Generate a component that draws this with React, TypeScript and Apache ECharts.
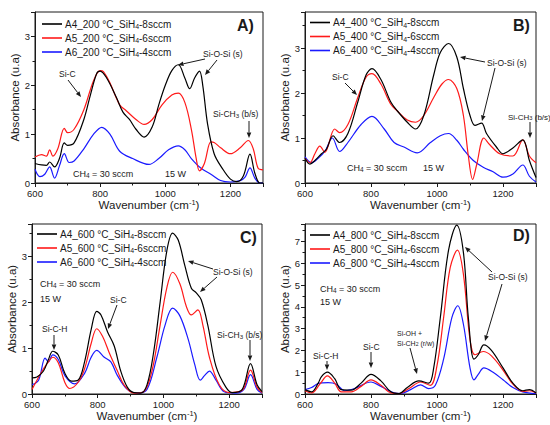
import React, { useEffect, useRef } from "react";
import * as echarts from "echarts";

type P = [number, number][];

// Panel A (200 °C)
const A4_200: P = [[600,0.40],[620,0.37],[635,0.36],[645,0.43],[660,0.33],[675,0.5],[690,0.82],[700,0.77],[720,0.82],[750,1.3],[770,1.8],[790,2.25],[800,2.29],[820,2.15],[850,1.75],[870,1.45],[890,1.3],[910,1.1],[935,0.94],[960,1.15],[980,1.6],[1000,2.0],[1020,2.3],[1040,2.42],[1060,2.15],[1075,1.93],[1090,2.15],[1105,2.29],[1115,2.0],[1130,1.2],[1150,0.6],[1175,0.3],[1200,0.08],[1220,0.03],[1240,0.15],[1260,0.59],[1275,0.2],[1290,0.0],[1300,0.0]];
const A5_200: P = [[600,0.53],[620,0.58],[635,0.55],[645,0.68],[655,0.55],[670,0.7],[690,1.12],[700,1.03],[720,1.1],[750,1.5],[780,2.1],[800,2.3],[810,2.28],[830,2.05],[860,1.6],[880,1.48],[910,1.3],[935,1.2],[960,1.3],[990,1.6],[1020,1.8],[1040,1.84],[1060,1.65],[1080,1.1],[1095,0.5],[1105,0.25],[1120,0.4],[1140,0.84],[1150,0.83],[1170,0.72],[1200,0.6],[1230,0.72],[1255,0.87],[1270,0.7],[1285,0.3],[1300,0.27]];
const A6_200: P = [[600,0.28],[615,0.13],[630,0.18],[645,0.33],[660,0.1],[675,0.35],[690,0.6],[705,0.42],[720,0.45],[750,0.7],[780,1.0],[805,1.14],[830,1.0],[860,0.65],[900,0.5],[950,0.38],[980,0.5],[1010,0.68],[1040,0.76],[1060,0.68],[1080,0.5],[1110,0.3],[1140,0.18],[1170,0.05],[1200,0.02],[1230,0.05],[1245,0.12],[1260,0.31],[1275,0.1],[1290,0.0],[1300,0.0]];

// Panel B (400 °C)
const A4_400: P = [[600,0.55],[615,0.42],[630,0.5],[650,0.65],[665,0.75],[685,1.05],[705,0.9],[730,1.1],[760,1.8],[785,2.4],[803,2.54],[830,2.3],[860,1.8],[880,1.6],[910,1.35],[935,1.2],[960,1.5],[990,2.4],[1010,2.9],[1035,3.1],[1060,2.8],[1080,2.1],[1100,1.5],[1115,1.28],[1135,1.33],[1150,1.1],[1180,0.8],[1200,0.65],[1230,0.78],[1260,0.96],[1280,0.5],[1300,0.12]];
const A5_400: P = [[600,0.55],[615,0.45],[630,0.65],[645,0.82],[660,0.68],[690,1.2],[705,1.12],[730,1.3],[760,1.9],[785,2.35],[803,2.43],[830,2.2],[860,1.75],[880,1.6],[910,1.4],[935,1.35],[960,1.5],[990,1.9],[1015,2.2],[1035,2.3],[1060,2.1],[1080,1.5],[1095,0.6],[1108,0.08],[1120,0.4],[1142,1.0],[1160,0.85],[1190,0.65],[1230,0.6],[1260,0.96],[1280,0.6],[1300,0.45]];
const A6_400: P = [[600,0.58],[620,0.45],[640,0.55],[660,0.7],[683,1.0],[705,0.7],[730,0.9],[770,1.3],[803,1.48],[840,1.2],[870,0.9],[900,0.8],[940,0.67],[980,0.9],[1010,1.05],[1035,1.1],[1060,0.95],[1080,0.75],[1110,0.5],[1140,0.35],[1170,0.25],[1200,0.13],[1230,0.2],[1260,0.4],[1280,0.15],[1300,0.02]];

// Panel C (600 °C)
const A4_600: P = [[600,0.35],[615,0.37],[635,0.5],[650,0.75],[663,0.93],[680,0.85],[700,0.45],[720,0.28],[740,0.3],[760,0.7],[780,1.4],[797,1.8],[810,1.72],[830,1.35],[850,1.05],[870,0.5],[890,0.15],[910,0.03],[930,0.02],[950,0.2],[970,0.9],[990,2.0],[1010,3.1],[1028,3.5],[1045,3.35],[1065,2.8],[1085,2.3],[1100,2.2],[1115,2.05],[1135,1.5],[1160,0.6],[1190,0.15],[1210,0.03],[1240,0.1],[1265,0.66],[1285,0.2],[1300,0.05]];
const A5_600: P = [[600,0.1],[615,0.3],[635,0.55],[650,0.7],[663,0.8],[680,0.68],[700,0.25],[715,0.12],[740,0.25],[760,0.55],[780,1.1],[797,1.42],[815,1.25],[835,0.9],[860,0.5],[880,0.2],[910,0.02],[940,0.05],[965,0.5],[990,1.5],[1010,2.3],[1028,2.65],[1050,2.4],[1070,1.9],[1085,1.72],[1105,1.83],[1120,1.5],[1140,0.8],[1170,0.2],[1200,0.03],[1240,0.08],[1265,0.52],[1285,0.15],[1300,0.03]];
const A6_600: P = [[600,0.2],[620,0.3],[640,0.78],[650,0.7],[663,0.85],[680,0.75],[700,0.4],[730,0.22],[760,0.45],[780,0.8],[797,0.95],[820,0.8],[840,0.7],[860,0.4],[890,0.1],[920,0.02],[950,0.1],[980,0.8],[1005,1.5],[1028,1.87],[1050,1.7],[1075,1.2],[1095,0.65],[1112,0.3],[1125,0.4],[1140,0.5],[1160,0.3],[1185,0.05],[1220,0.02],[1245,0.1],[1265,0.42],[1285,0.1],[1300,0.02]];

// Panel D (800 °C)
const A4_800: P = [[600,0.2],[620,0.1],[640,0.5],[650,0.8],[668,1.0],[690,0.7],[710,0.2],[740,0.18],[770,0.5],[800,0.9],[830,0.6],[860,0.1],[885,0.02],[910,0.3],[945,0.6],[975,0.5],[990,1.2],[1010,3.5],[1035,6.6],[1060,7.75],[1080,6.5],[1095,3.5],[1112,1.6],[1125,1.8],[1142,2.25],[1165,2.0],[1200,1.2],[1230,0.5],[1260,0.15],[1280,0.2],[1300,0.05]];
const A5_800: P = [[600,0.15],[620,0.05],[645,0.45],[668,0.83],[690,0.5],[710,0.1],[740,0.1],[770,0.35],[800,0.65],[830,0.4],[860,0.05],[885,0.02],[915,0.25],[950,0.55],[980,0.4],[1000,1.3],[1020,3.5],[1040,5.8],[1062,6.6],[1080,5.5],[1100,2.5],[1115,1.8],[1140,1.95],[1165,1.75],[1200,1.1],[1230,0.45],[1260,0.12],[1280,0.15],[1300,0.05]];
const A6_800: P = [[600,0.2],[620,0.3],[640,0.48],[670,0.52],[695,0.45],[720,0.15],[750,0.25],[800,0.55],[830,0.35],[870,0.05],[890,0.02],[920,0.2],[950,0.42],[975,0.25],[995,0.4],[1020,1.6],[1045,3.5],[1063,4.05],[1080,3.2],[1100,1.2],[1112,0.65],[1125,0.9],[1142,1.2],[1170,1.0],[1200,0.65],[1230,0.3],[1260,0.1],[1300,0.02]];

const temps = ["200", "400", "600", "800"];
const flows = ["8", "6", "4"];
const panelData: P[][] = [
  [A4_200, A5_200, A6_200],
  [A4_400, A5_400, A6_400],
  [A4_600, A5_600, A6_600],
  [A4_800, A5_800, A6_800],
];
const yMax = [3.5, 3.8, 3.7, 7.8];
const panelLetters = ["A)", "B)", "C)", "D)"];
const colors = ["#000000", "#ff1a1a", "#1a1aff"];

const FONT = "Liberation Sans, Arial, sans-serif";
const INK = "#1a1a1a";

const grids = [
  { left: 35, top: 12, width: 228, height: 171 },
  { left: 305, top: 12, width: 231, height: 171 },
  { left: 32, top: 224, width: 230, height: 170 },
  { left: 305, top: 224, width: 231, height: 170 },
];
const legendPos = [
  { left: 42, top: 17.5 },
  { left: 310, top: 16 },
  { left: 37, top: 227.5 },
  { left: 310, top: 228.5 },
];

const seriesName = (p: number, s: number) =>
  `A${4 + s}_${temps[p]} °C_SiH4-${flows[s]}sccm`;

function arrow(x1: number, y1: number, x2: number, y2: number) {
  const a = Math.atan2(y2 - y1, x2 - x1);
  const L = 5.5, W = 2.3;
  const bx = x2 - L * Math.cos(a), by = y2 - L * Math.sin(a);
  return {
    type: "group",
    children: [
      { type: "line", shape: { x1, y1, x2: bx, y2: by }, style: { stroke: INK, lineWidth: 1 } },
      {
        type: "polygon",
        shape: {
          points: [
            [x2, y2],
            [bx - W * Math.sin(a), by + W * Math.cos(a)],
            [bx + W * Math.sin(a), by - W * Math.cos(a)],
          ],
        },
        style: { fill: INK },
      },
    ],
  };
}

function label(text: string, x: number, y: number, size = 8.5, align = "left", bold = false) {
  return {
    type: "text",
    x,
    y,
    style: {
      text,
      fill: INK,
      fontSize: size,
      fontFamily: FONT,
      fontWeight: bold ? "bold" : "normal",
      align,
      verticalAlign: "middle",
      textAlign: align,
      textVerticalAlign: "middle",
      rich: {
        s: { fontSize: size * 0.72, lineHeight: size * 0.7, verticalAlign: "bottom", fontFamily: FONT, fill: INK, textFill: INK },
      },
    },
  };
}

const plain = (v: number) => String(v);

export default function App() {
  const ref = useRef<HTMLDivElement>(null);
  useEffect(() => {
    if (!ref.current) return;
    const chart = echarts.init(ref.current, undefined, { renderer: "svg" });

    const xAxis = grids.map((_, i) => ({
      type: "value",
      gridIndex: i,
      min: 600,
      max: 1300,
      interval: 200,
      name: "Wavenumber (cm{sup|-1})",
      nameLocation: "middle",
      nameGap: 14,
      nameTextStyle: {
        fontSize: 11.5,
        color: INK,
        fontFamily: FONT,
        rich: { sup: { fontSize: 7.5, lineHeight: 7, verticalAlign: "top", fontFamily: FONT, color: INK } },
      },
      axisLine: { lineStyle: { color: INK, width: 1 } },
      axisTick: { inside: false, length: 4, lineStyle: { color: INK } },
      minorTick: { show: true, splitNumber: 2, length: 2.5, lineStyle: { color: INK } },
      axisLabel: { fontSize: 9.5, color: INK, fontFamily: FONT, margin: 5, showMaxLabel: false, formatter: plain },
      splitLine: { show: false },
    }));
    const yAxis = grids.map((_, i) => ({
      type: "value",
      gridIndex: i,
      min: 0,
      max: yMax[i],
      interval: 1,
      name: "Absorbance (u.a)",
      nameLocation: "middle",
      nameGap: 11,
      nameTextStyle: { fontSize: 11.5, color: INK, fontFamily: FONT },
      axisLine: { show: true, lineStyle: { color: INK, width: 1 } },
      axisTick: { show: true, inside: false, length: 4, lineStyle: { color: INK } },
      minorTick: { show: true, splitNumber: 2, length: 2.5, lineStyle: { color: INK } },
      axisLabel: { fontSize: 9.5, color: INK, fontFamily: FONT, margin: 5, showMaxLabel: false, formatter: plain },
      splitLine: { show: false },
    }));

    const series: any[] = [];
    panelData.forEach((set, p) => {
      set.forEach((data, s) => {
        series.push({
          type: "line",
          name: seriesName(p, s),
          xAxisIndex: p,
          yAxisIndex: p,
          data,
          smooth: 0.35,
          showSymbol: false,
          color: colors[s],
          lineStyle: { color: colors[s], width: 1.2 },
          z: 5 - s,
        });
      });
    });

    const legend = panelData.map((set, p) => ({
      orient: "vertical",
      left: legendPos[p].left,
      top: legendPos[p].top,
      padding: 0,
      itemGap: 1,
      itemWidth: 20,
      itemHeight: 1.6,
      icon: "rect",
      data: set.map((_, s) => seriesName(p, s)),
      selectedMode: false,
      formatter: (n: string) => n.replace("SiH4", "SiH{s|4}"),
      textStyle: {
        fontSize: 10,
        lineHeight: 13,
        color: INK,
        fontFamily: FONT,
        padding: [0, 0, 0, -2],
        rich: {
          s: { fontSize: 7, lineHeight: 7, verticalAlign: "bottom", fontFamily: FONT, color: INK },
        },
      },
    }));

    const graphic: any[] = [
      // Panel A
      label("Si-C", 59, 74),
      arrow(68, 80, 81, 97),
      label("Si-O-Si (s)", 203, 54),
      arrow(205, 59, 178, 65),
      arrow(217, 60, 205, 75),
      label("Si-CH{s|3} (b/s)", 213, 114),
      arrow(249, 121, 249, 138),
      label("CH{s|4} = 30 sccm", 73, 174, 9),
      label("15 W", 165, 174, 9),
      label(panelLetters[0], 237, 25, 16, "left", true),
      // Panel B
      label("Si-C", 332, 77),
      arrow(345, 83, 357, 95),
      label("Si-O-Si (s)", 487, 63),
      arrow(485, 62, 460, 57),
      arrow(495, 68, 482, 121),
      label("Si-CH{s|3} (b/s)", 508, 117, 8),
      arrow(530, 122, 530, 138),
      label("CH{s|4} = 30 sccm", 347, 168, 9),
      label("15 W", 423, 168, 9),
      label(panelLetters[1], 513, 25, 16, "left", true),
      // Panel C
      label("Si-C-H", 42, 329),
      arrow(54, 335, 54, 350),
      label("Si-C", 110, 300),
      arrow(117, 305, 108, 329),
      label("Si-O-Si (s)", 213, 272),
      arrow(213, 269, 188, 261),
      arrow(217, 277, 200, 292),
      label("Si-CH{s|3} (b/s)", 217, 335),
      arrow(250, 340, 250, 361),
      label("CH{s|4} = 30 sccm", 40, 284, 9),
      label("15 W", 40, 299, 9),
      label(panelLetters[2], 240, 237, 16, "left", true),
      // Panel D
      label("Si-C-H", 313, 356),
      arrow(327, 361, 327, 370),
      label("Si-C", 363, 347),
      arrow(371, 352, 371, 368),
      label("Si-OH +", 397, 333, 7),
      label("Si-CH{s|2} (r/w)", 397, 343, 7),
      arrow(410, 348, 417, 374),
      label("Si-O-Si (s)", 488, 277),
      arrow(492, 272, 465, 247),
      arrow(502, 284, 485, 341),
      label("CH{s|4} = 30 sccm", 320, 289, 9),
      label("15 W", 320, 302, 9),
      label(panelLetters[3], 513, 235, 16, "left", true),
    ];

    chart.setOption({
      animation: false,
      backgroundColor: "#ffffff",
      textStyle: { fontFamily: FONT },
      grid: grids.map((g) => ({
        ...g,
        show: true,
        borderColor: INK,
        borderWidth: 1,
        backgroundColor: "transparent",
        containLabel: false,
      })),
      xAxis,
      yAxis,
      legend,
      series,
      graphic,
    });
    return () => chart.dispose();
  }, []);
  return (
    <div
      ref={ref}
      style={{ position: "absolute", left: 0, top: 0, width: 550, height: 425 }}
    />
  );
}
